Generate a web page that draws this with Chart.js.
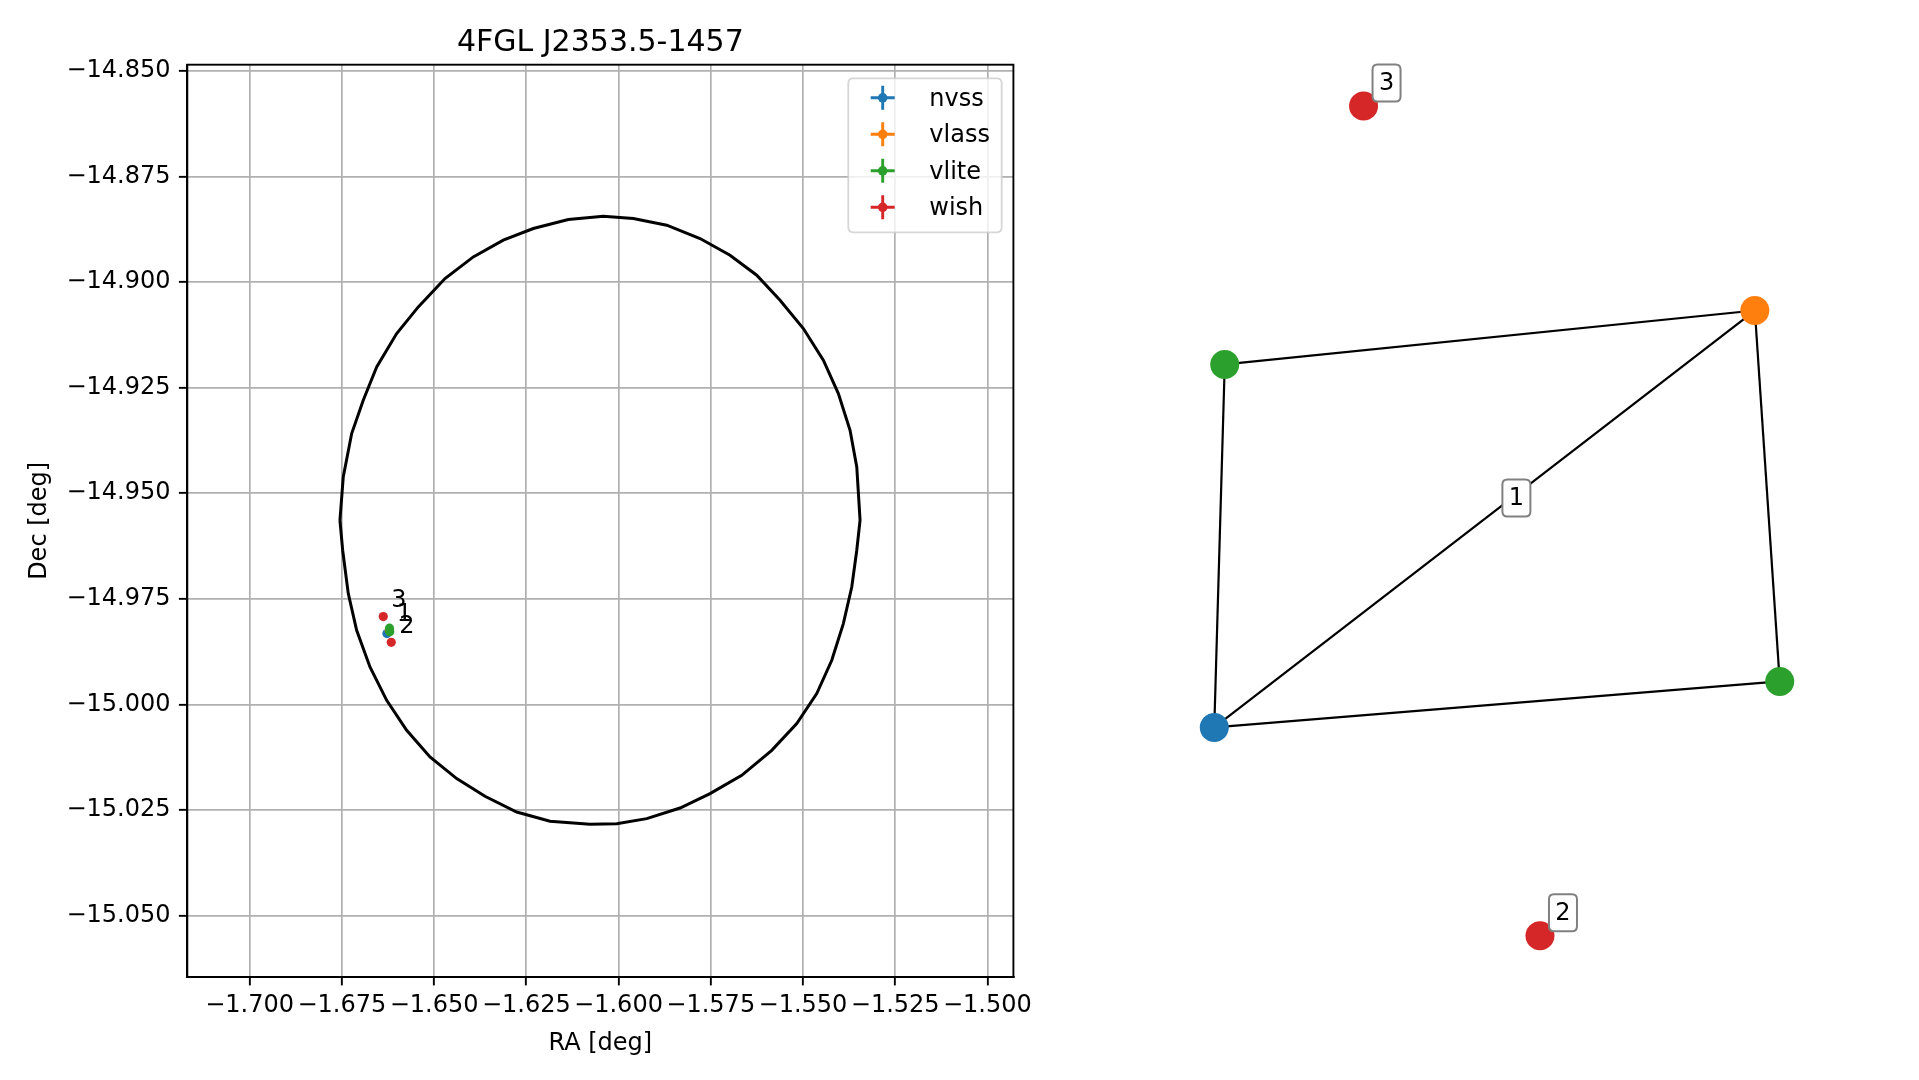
<!DOCTYPE html>
<html>
<head>
<meta charset="utf-8">
<script src="https://cdn.jsdelivr.net/npm/chart.js@4.4.1/dist/chart.umd.min.js"></script>
<style>
  html, body { margin:0; padding:0; background:#fff; }
  #wrap { position:relative; width:1919px; height:1080px; overflow:hidden; }
  #skyChart { position:absolute; left:0; top:0; }
  #graphChart { position:absolute; left:1060px; top:0; }
</style>
</head>
<body>
<div id="wrap">
  <canvas id="skyChart" width="1060" height="1080"></canvas>
  <canvas id="graphChart" width="859" height="1080"></canvas>
</div>
<script>
// Survey names and colours
var surveys = ['nvss', 'vlass', 'vlite', 'wish'];
var surveyColors = ['#1f77b4', '#ff7f0e', '#2ca02c', '#d62728'];

// Radio sources (sky position + layout position in the match graph)
var pointSurvey = ['nvss', 'vlass', 'vlite', 'vlite', 'wish', 'wish'];
var pointRA  = [-1.66277, -1.66215, -1.66209, -1.66201, -1.66377, -1.66161];
var pointDec = [-14.98322, -14.98243, -14.98194, -14.98277, -14.97919, -14.98528];
var pointGroup = ['1', '1', '1', '1', '3', '2'];
var graphX = [-1.000, 0.912, -0.963, 1.000, -0.472, 0.152];
var graphY = [-0.498, 0.507, 0.377, -0.387, 1.000, -1.000];

// Graph edges (indices into the source lists)
var edgeFrom = [0, 0, 0, 2, 1];
var edgeTo   = [2, 1, 3, 1, 3];

// 4FGL error ellipse outline
var ellipseRA = [-1.67552, -1.67462, -1.67234, -1.66920, -1.66556, -1.66014, -1.65428, -1.64704,
  -1.63937, -1.63124, -1.62310, -1.61361, -1.60412, -1.59599, -1.58693, -1.57790, -1.56977,
  -1.56253, -1.55621, -1.54989, -1.54447, -1.54040, -1.53723, -1.53541, -1.53452, -1.53541,
  -1.53677, -1.53905, -1.54219, -1.54626, -1.55168, -1.55846, -1.56659, -1.57519, -1.58332,
  -1.59235, -1.60049, -1.60773, -1.61857, -1.62760, -1.63620, -1.64387, -1.65111, -1.65743,
  -1.66285, -1.66738, -1.67099, -1.67326, -1.67478];
var ellipseDec = [-14.95639, -14.94614, -14.93587, -14.92798, -14.92010, -14.91219, -14.90589, -14.89917,
  -14.89406, -14.89010, -14.88733, -14.88520, -14.88442, -14.88497, -14.88655, -14.88970, -14.89366,
  -14.89839, -14.90431, -14.91101, -14.91851, -14.92640, -14.93509, -14.94377, -14.95639, -14.96349,
  -14.97218, -14.98085, -14.98954, -14.99742, -15.00452, -15.01084, -15.01676, -15.02110, -15.02450,
  -15.02701, -15.02820, -15.02836, -15.02765, -15.02545, -15.02173, -15.01754, -15.01243, -15.00611,
  -14.99901, -14.99112, -14.98243, -14.97375, -14.96349];

// Axes
var raRange = [-1.7169, -1.49295];
var decRange = [-15.0645, -14.84856];
var raTicks = [-1.700, -1.675, -1.650, -1.625, -1.600, -1.575, -1.550, -1.525, -1.500];
var raTickLabels = ['\u22121.700', '\u22121.675', '\u22121.650', '\u22121.625', '\u22121.600',
  '\u22121.575', '\u22121.550', '\u22121.525', '\u22121.500'];
var decTicks = [-15.050, -15.025, -15.000, -14.975, -14.950, -14.925, -14.900, -14.875, -14.850];
var decTickLabels = ['\u221215.050', '\u221215.025', '\u221215.000', '\u221214.975', '\u221214.950',
  '\u221214.925', '\u221214.900', '\u221214.875', '\u221214.850'];
var graphRange = [-1.1, 1.1];

var FONT = "'DejaVu Sans', sans-serif";

function labelFor(ticks, labels, v) {
    for (var j = 0; j < ticks.length; j++) {
        if (Math.abs(ticks[j] - v) < 1e-9) return labels[j];
    }
    return '';
}

// group label anchors = mean of members
function groupAnchor(g, xs, ys) {
    var sx = 0, sy = 0, n = 0;
    pointGroup.forEach(function(pg, i) {
        if (pg === g) { sx += xs[i]; sy += ys[i]; n++; }
    });
    return { x: sx / n, y: sy / n };
}
var groupNames = ['3', '1', '2'];

function roundRect(ctx, x, y, w, h, r) {
    ctx.beginPath();
    ctx.moveTo(x + r, y);
    ctx.lineTo(x + w - r, y);
    ctx.quadraticCurveTo(x + w, y, x + w, y + r);
    ctx.lineTo(x + w, y + h - r);
    ctx.quadraticCurveTo(x + w, y + h, x + w - r, y + h);
    ctx.lineTo(x + r, y + h);
    ctx.quadraticCurveTo(x, y + h, x, y + h - r);
    ctx.lineTo(x, y + r);
    ctx.quadraticCurveTo(x, y, x + r, y);
    ctx.closePath();
}

// ---------- left panel: sky positions ----------
var skyDatasets = [{
    label: 'ellipse',
    data: ellipseRA.concat([ellipseRA[0]]).map(function(x, i) {
        return { x: x, y: ellipseDec.concat([ellipseDec[0]])[i] };
    }),
    showLine: true,
    borderColor: '#000',
    borderWidth: 3,
    pointRadius: 0,
    tension: 0,
    fill: false,
    order: 10
}];
surveys.forEach(function(s, k) {
    var pts = [];
    pointSurvey.forEach(function(ps, i) {
        if (ps === s) pts.push({ x: pointRA[i], y: pointDec[i] });
    });
    skyDatasets.push({
        label: s,
        data: pts,
        backgroundColor: surveyColors[k],
        borderColor: surveyColors[k],
        pointRadius: 4.6,
        pointBorderWidth: 0,
        showLine: false,
        order: 4 - k
    });
});

var skyDecor = {
    id: 'skyDecor',
    afterDraw: function(chart) {
        var ctx = chart.ctx, a = chart.chartArea;
        var xs = chart.scales.x, ys = chart.scales.y;
        ctx.save();
        // frame
        ctx.strokeStyle = '#000';
        ctx.lineWidth = 1.9;
        ctx.strokeRect(a.left, a.top, a.right - a.left, a.bottom - a.top);

        // group labels
        ctx.fillStyle = '#000';
        ctx.font = '24px ' + FONT;
        ctx.textAlign = 'left';
        ctx.textBaseline = 'alphabetic';
        groupNames.forEach(function(g) {
            var p = groupAnchor(g, pointRA, pointDec);
            ctx.fillText(g, xs.getPixelForValue(p.x) + 8, ys.getPixelForValue(p.y) - 9.5);
        });

        // legend
        var lx = 848.3, ly = 78.3, lw = 153.4, lh = 154;
        roundRect(ctx, lx, ly, lw, lh, 5);
        ctx.fillStyle = 'rgba(255,255,255,0.8)';
        ctx.fill();
        ctx.strokeStyle = 'rgba(204,204,204,0.8)';
        ctx.lineWidth = 1.8;
        ctx.stroke();
        surveys.forEach(function(s, k) {
            var cx = lx + 34.4, cy = ly + 19.5 + k * 36.5;
            ctx.strokeStyle = surveyColors[k];
            ctx.fillStyle = surveyColors[k];
            ctx.lineWidth = 2.9;
            ctx.beginPath();
            ctx.moveTo(cx - 12, cy); ctx.lineTo(cx + 12, cy);
            ctx.moveTo(cx, cy - 12); ctx.lineTo(cx, cy + 12);
            ctx.stroke();
            ctx.beginPath();
            ctx.arc(cx, cy, 4.8, 0, Math.PI * 2);
            ctx.fill();
            ctx.fillStyle = '#000';
            ctx.font = '24px ' + FONT;
            ctx.textBaseline = 'middle';
            ctx.fillText(s, lx + 81, cy + 1.5);
        });

        // title and axis titles
        ctx.fillStyle = '#000';
        ctx.textAlign = 'center';
        ctx.textBaseline = 'alphabetic';
        ctx.font = '30px ' + FONT;
        ctx.fillText('4FGL J2353.5-1457', (a.left + a.right) / 2, 51);
        ctx.font = '24px ' + FONT;
        ctx.fillText('RA [deg]', (a.left + a.right) / 2, 1049.5);
        ctx.translate(45.5, (a.top + a.bottom) / 2);
        ctx.rotate(-Math.PI / 2);
        ctx.fillText('Dec [deg]', 0, 0);
        ctx.restore();
    }
};

new Chart(document.getElementById('skyChart'), {
    type: 'scatter',
    data: { datasets: skyDatasets },
    options: {
        responsive: false,
        animation: false,
        devicePixelRatio: 1,
        events: [],
        layout: { padding: { left: 0, top: 64.7, right: 46.6, bottom: 0 } },
        plugins: { legend: { display: false }, tooltip: { enabled: false } },
        scales: {
            x: {
                type: 'linear',
                min: raRange[0],
                max: raRange[1],
                afterBuildTicks: function(s) { s.ticks = raTicks.map(function(v) { return { value: v }; }); },
                afterFit: function(s) { s.height = 103; },
                ticks: {
                    callback: function(v) { return labelFor(raTicks, raTickLabels, v); },
                    color: '#000', font: { family: FONT, size: 24 },
                    padding: 6, maxRotation: 0, minRotation: 0, autoSkip: false
                },
                grid: { color: '#b0b0b0', lineWidth: 1.7, tickLength: 8.4, tickColor: '#000', tickWidth: 1.9 },
                border: { color: '#000', width: 1.9 }
            },
            y: {
                type: 'linear',
                min: decRange[0],
                max: decRange[1],
                afterBuildTicks: function(s) { s.ticks = decTicks.map(function(v) { return { value: v }; }); },
                afterFit: function(s) { s.width = 187.3; },
                ticks: {
                    callback: function(v) { return labelFor(decTicks, decTickLabels, v); },
                    color: '#000', font: { family: FONT, size: 24 },
                    padding: 8.4, autoSkip: false
                },
                grid: { color: '#b0b0b0', lineWidth: 1.7, tickLength: 8.4, tickColor: '#000', tickWidth: 1.9 },
                border: { color: '#000', width: 1.9 }
            }
        }
    },
    plugins: [skyDecor]
});

// ---------- right panel: match graph ----------
var graphDatasets = [];
edgeFrom.forEach(function(f, e) {
    var t = edgeTo[e];
    graphDatasets.push({
        label: 'edge' + e,
        data: [{ x: graphX[f], y: graphY[f] }, { x: graphX[t], y: graphY[t] }],
        showLine: true,
        borderColor: '#000',
        borderWidth: 2.2,
        pointRadius: 0,
        order: 10
    });
});
graphDatasets.push({
    label: 'nodes',
    data: graphX.map(function(x, i) { return { x: x, y: graphY[i] }; }),
    backgroundColor: pointSurvey.map(function(s) { return surveyColors[surveys.indexOf(s)]; }),
    pointRadius: 14.5,
    pointBorderWidth: 0,
    showLine: false,
    order: 1
});

var graphLabels = {
    id: 'graphLabels',
    afterDraw: function(chart) {
        var ctx = chart.ctx;
        var xs = chart.scales.x, ys = chart.scales.y;
        ctx.save();
        ctx.font = '24px ' + FONT;
        ctx.textAlign = 'center';
        ctx.textBaseline = 'middle';
        groupNames.forEach(function(g) {
            var p = groupAnchor(g, graphX, graphY);
            var cx = xs.getPixelForValue(p.x) + 23, cy = ys.getPixelForValue(p.y) - 23;
            roundRect(ctx, cx - 14, cy - 18.5, 28, 37, 5);
            ctx.fillStyle = '#fff';
            ctx.fill();
            ctx.strokeStyle = '#808080';
            ctx.lineWidth = 2;
            ctx.stroke();
            ctx.fillStyle = '#000';
            ctx.fillText(g, cx, cy + 1);
        });
        ctx.restore();
    }
};

new Chart(document.getElementById('graphChart'), {
    type: 'scatter',
    data: { datasets: graphDatasets },
    options: {
        responsive: false,
        animation: false,
        devicePixelRatio: 1,
        events: [],
        clip: false,
        layout: { padding: { left: 126, top: 64.5, right: 111, bottom: 102.8 } },
        plugins: { legend: { display: false }, tooltip: { enabled: false } },
        scales: {
            x: { type: 'linear', min: graphRange[0], max: graphRange[1], display: false },
            y: { type: 'linear', min: graphRange[0], max: graphRange[1], display: false }
        }
    },
    plugins: [graphLabels]
});
</script>
</body>
</html>
